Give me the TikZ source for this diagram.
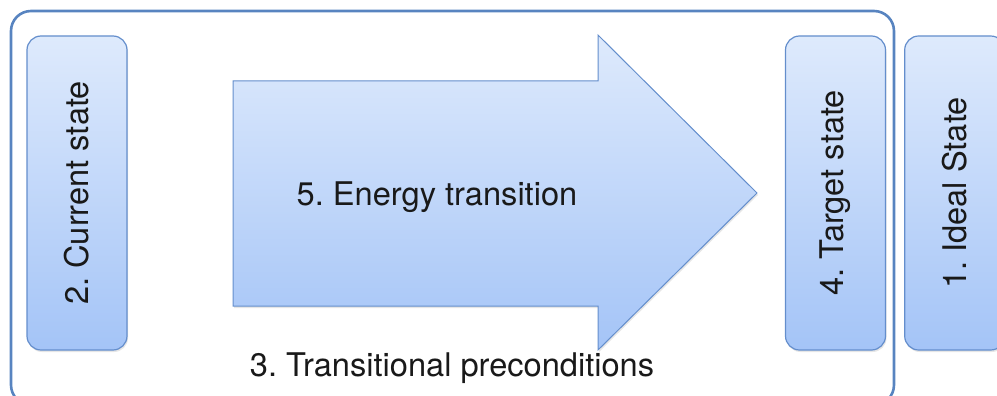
\documentclass[tikz,border=0pt]{standalone}
\usepackage{fontspec}
\setmainfont{TeX Gyre Heros}
\usepackage{tikz}
\usetikzlibrary{positioning, shadows}
\frenchspacing
\definecolor{frameblue}{RGB}{88,132,192}
\definecolor{boxline}{RGB}{100,142,204}
\definecolor{filltop}{RGB}{222,234,252}
\definecolor{fillbottom}{RGB}{164,196,247}
\definecolor{textgrey}{RGB}{25,25,25}
\tikzset{
x=1pt, y=-1pt, % one unit per pixel, y runs downwards
every node/.style={font=\fontsize{32.6}{39}\selectfont, text=textgrey}, % large sans labels
frame/.style={draw=frameblue, line width=2.6pt, rounded corners=20pt, minimum width=883pt, minimum height=394pt}, % the outer frame
statebox/.style={draw=boxline, line width=1.2pt, rounded corners=14pt, top color=filltop, bottom color=fillbottom, minimum width=100pt, minimum height=314pt, inner sep=0pt, drop shadow={opacity=0.2, shadow xshift=1pt, shadow yshift=-2pt}}, % the rounded state boxes
bigarrow/.style={draw=boxline, line width=1pt, top color=filltop, bottom color=fillbottom, drop shadow={opacity=0.2, shadow xshift=1pt, shadow yshift=-2pt}}, % the transition arrow
}
\begin{document}
\begin{tikzpicture}
        \useasboundingbox (0,0) rectangle (997,396);
        \node[frame] (outer) at (452.5,208) {};
        \node[statebox] (current) at (77,193) {\rotatebox{90}{2. Current state}};
        \node[statebox] (target) at (835.5,193) {\rotatebox{90}{4. Target state}};
        \node[statebox, right=18pt of target] (ideal) {\rotatebox{90}{1. Ideal State}};

        \path[bigarrow] (233,81) -- (598,81) -- (598,35) -- (757,193) -- (598,350) -- (598,306) -- (233,306) -- cycle;
        \node (energy) at (437,197) {5. Energy transition};
        \node (preconditions) at (452,368) {3. Transitional preconditions};
      \end{tikzpicture}
\end{document}
